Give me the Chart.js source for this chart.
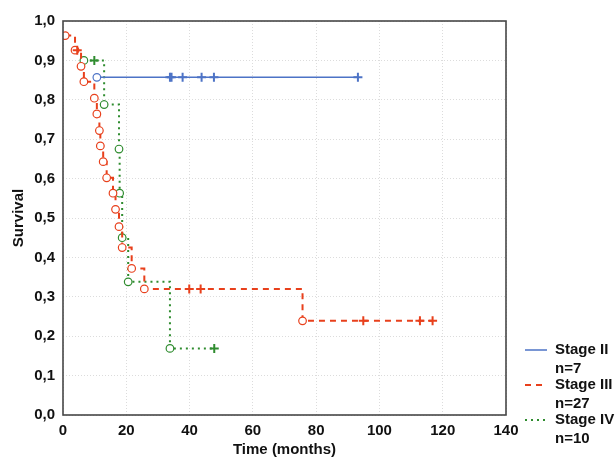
<!DOCTYPE html>
<html>
<head>
<meta charset="utf-8">
<script src="https://cdn.jsdelivr.net/npm/chart.js@4.4.1/dist/chart.umd.min.js"></script>
<style>
  html, body { margin: 0; padding: 0; background: #fff; }
</style>
</head>
<body>
<canvas id="kmChart" width="615" height="463"></canvas>
<script>
// Kaplan-Meier survival by stage
const stageIITime = [10.7, 33.8, 34.3, 37.8, 43.8, 47.7, 93.2];
const stageIISurv = [0.857, 0.857, 0.857, 0.857, 0.857, 0.857, 0.857];
const stageIIMark = ['event', 'censor', 'censor', 'censor', 'censor', 'censor', 'censor'];

const stageIIITime = [0.7, 3.8, 4.5, 5.7, 6.6, 9.9, 10.7, 11.5, 11.8, 12.7, 13.8, 15.8,
  16.6, 17.7, 18.7, 21.7, 25.7, 39.9, 43.5, 75.7, 94.9, 112.8, 116.8];
const stageIIISurv = [0.963, 0.926, 0.926, 0.885, 0.846, 0.804, 0.764, 0.722, 0.683, 0.643, 0.602, 0.563,
  0.522, 0.478, 0.425, 0.372, 0.320, 0.320, 0.320, 0.239, 0.239, 0.239, 0.239];
const stageIIIMark = ['event', 'event', 'censor', 'event', 'event', 'event', 'event', 'event', 'event', 'event', 'event', 'event',
  'event', 'event', 'event', 'event', 'event', 'censor', 'censor', 'event', 'censor', 'censor', 'censor'];

const stageIVTime = [6.6, 9.9, 13.0, 17.7, 17.9, 18.7, 20.6, 33.8, 47.8];
const stageIVSurv = [0.900, 0.900, 0.788, 0.675, 0.563, 0.450, 0.338, 0.169, 0.169];
const stageIVMark = ['event', 'censor', 'event', 'event', 'event', 'event', 'event', 'event', 'censor'];

const seriesNames = ['Stage II', 'Stage III', 'Stage IV'];
const seriesCounts = ['n=7', 'n=27', 'n=10'];

const COLORS = {
  blue: '#4d73c6',
  red: '#e8401c',
  green: '#2f8c2f',
  axis: '#474747',
  grid: '#dcdcdc',
  text: '#111111',
};
const FONT = "'Liberation Sans', Arial, sans-serif";

function makeSeries(label, times, surv, marks, color, dash) {
  return {
    label: label,
    data: times.map((t, i) => ({ x: t, y: surv[i] })),
    showLine: true,
    stepped: 'before',
    borderColor: color,
    borderWidth: dash.length ? 2 : 1.5,
    borderDash: dash,
    pointStyle: marks.map(m => (m === 'event' ? 'circle' : 'cross')),
    pointRadius: marks.map(m => (m === 'event' ? 3.8 : 4.5)),
    pointBorderWidth: marks.map(m => (m === 'event' ? 1.2 : 2)),
    pointBackgroundColor: '#ffffff',
    pointBorderColor: color,
    fill: false,
  };
}

const frameAndLegend = {
  id: 'frameAndLegend',
  afterDraw(chart) {
    const { ctx, chartArea: a } = chart;
    ctx.save();
    // plot frame
    ctx.strokeStyle = COLORS.axis;
    ctx.lineWidth = 1.6;
    ctx.strokeRect(a.left, a.top, a.right - a.left, a.bottom - a.top);

    // legend at lower right
    const x0 = a.right + 19;
    const textX = a.right + 49;
    ctx.font = 'bold 15px ' + FONT;
    ctx.textBaseline = 'middle';
    ctx.fillStyle = COLORS.text;
    chart.data.datasets.forEach((ds, i) => {
      const y = a.bottom - 65 + i * 35;
      ctx.save();
      ctx.strokeStyle = ds.borderColor;
      ctx.lineWidth = ds.borderWidth;
      ctx.setLineDash(ds.borderDash);
      ctx.beginPath();
      ctx.moveTo(x0, y);
      ctx.lineTo(x0 + 22, y);
      ctx.stroke();
      ctx.restore();
      ctx.fillText(seriesNames[i], textX, y);
      ctx.fillText(seriesCounts[i], textX, y + 18.5);
    });
    ctx.restore();
  },
};

new Chart(document.getElementById('kmChart'), {
  type: 'scatter',
  data: {
    datasets: [
      makeSeries(seriesNames[0], stageIITime, stageIISurv, stageIIMark, COLORS.blue, []),
      makeSeries(seriesNames[1], stageIIITime, stageIIISurv, stageIIIMark, COLORS.red, [6, 5]),
      makeSeries(seriesNames[2], stageIVTime, stageIVSurv, stageIVMark, COLORS.green, [2, 4]),
    ],
  },
  options: {
    responsive: false,
    animation: false,
    devicePixelRatio: 1,
    layout: { padding: { top: 21, right: 109, bottom: 0, left: 0 } },
    plugins: {
      legend: { display: false },
      tooltip: { enabled: false },
    },
    scales: {
      x: {
        type: 'linear',
        min: 0,
        max: 140,
        afterFit: (s) => { s.height = 48; },
        ticks: {
          stepSize: 20,
          padding: 7,
          color: COLORS.text,
          font: { family: FONT, size: 15, weight: 'bold' },
          maxRotation: 0,
        },
        grid: { color: COLORS.grid, drawTicks: false, lineWidth: 1 },
        border: { display: false, dash: [1, 2] },
        title: {
          display: true,
          text: 'Time (months)',
          color: COLORS.text,
          font: { family: FONT, size: 15, weight: 'bold' },
          padding: { top: 0, bottom: 4 },
        },
      },
      y: {
        type: 'linear',
        min: 0,
        max: 1,
        afterFit: (s) => { s.width = 63; },
        ticks: {
          stepSize: 0.1,
          padding: 8,
          color: COLORS.text,
          font: { family: FONT, size: 15, weight: 'bold' },
          callback: (v) => v.toFixed(1).replace('.', ','),
        },
        grid: { color: COLORS.grid, drawTicks: false, lineWidth: 1 },
        border: { display: false, dash: [1, 2] },
        title: {
          display: true,
          text: 'Survival',
          color: COLORS.text,
          font: { family: FONT, size: 15, weight: 'bold' },
          padding: { top: 10, bottom: 0 },
        },
      },
    },
  },
  plugins: [frameAndLegend],
});
</script>
</body>
</html>
